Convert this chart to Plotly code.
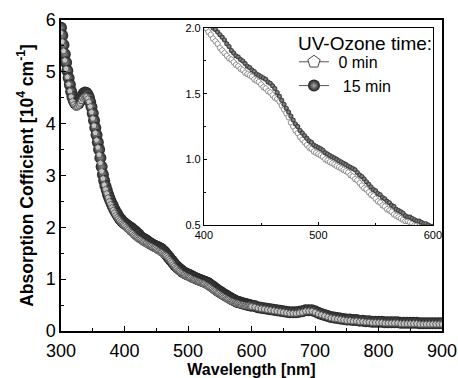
import plotly.graph_objects as go

# wavelength grid (nm): 2 nm steps 300-600, 5 nm steps 605-900
wavelength_uv = list(range(300, 401, 2))
wavelength_vis = list(range(402, 601, 2))
wavelength_nir = list(range(605, 901, 5))
wavelength = wavelength_uv + wavelength_vis + wavelength_nir

# 15 min UV-Ozone (dark spheres), 10^4 cm^-1
abs_15min_uv = [5.85, 5.70, 5.52, 5.34, 5.18, 5.02, 4.88, 4.75, 4.62, 4.52,
                4.45, 4.40, 4.38, 4.38, 4.40, 4.44, 4.50, 4.55, 4.58, 4.60,
                4.59, 4.56, 4.50, 4.42, 4.32, 4.20, 4.06, 3.92, 3.78, 3.64,
                3.50, 3.34, 3.17, 3.02, 2.90, 2.80, 2.72, 2.64, 2.57, 2.51,
                2.45, 2.40, 2.35, 2.30, 2.26, 2.22, 2.18, 2.15, 2.12, 2.10,
                2.08]
abs_15min_vis = [2.06, 2.04, 2.02, 2.00, 1.99, 1.97, 1.95, 1.93, 1.91, 1.88,
                 1.86, 1.83, 1.81, 1.79, 1.78, 1.76, 1.75, 1.73, 1.71, 1.70,
                 1.68, 1.67, 1.65, 1.64, 1.63, 1.62, 1.61, 1.59, 1.58, 1.56,
                 1.54, 1.51, 1.48, 1.45, 1.42, 1.39, 1.36, 1.33, 1.30, 1.27,
                 1.25, 1.22, 1.20, 1.18, 1.16, 1.14, 1.13, 1.11, 1.10, 1.09,
                 1.08, 1.07, 1.05, 1.04, 1.03, 1.02, 1.01, 1.00, 0.99, 0.98,
                 0.97, 0.96, 0.95, 0.94, 0.93, 0.92, 0.90, 0.88, 0.87, 0.85,
                 0.83, 0.81, 0.79, 0.77, 0.76, 0.74, 0.73, 0.71, 0.70, 0.68,
                 0.67, 0.65, 0.64, 0.62, 0.61, 0.60, 0.59, 0.57, 0.56, 0.56,
                 0.55, 0.54, 0.53, 0.53, 0.52, 0.51, 0.51, 0.50, 0.49, 0.49]
abs_15min_nir = [0.48, 0.46, 0.45, 0.44, 0.43, 0.42, 0.41, 0.40, 0.39, 0.38,
                 0.37, 0.36, 0.36, 0.36, 0.37, 0.38, 0.40, 0.40, 0.40, 0.38,
                 0.35, 0.33, 0.31, 0.29, 0.27, 0.26, 0.25, 0.24, 0.23, 0.22,
                 0.22, 0.21, 0.21, 0.20, 0.20, 0.19, 0.19, 0.18, 0.18, 0.18,
                 0.18, 0.17, 0.17, 0.17, 0.17, 0.17, 0.16, 0.16, 0.16, 0.16,
                 0.16, 0.16, 0.15, 0.15, 0.15, 0.15, 0.15, 0.15, 0.15, 0.15]

# 0 min UV-Ozone (open pentagons)
abs_0min_uv = [5.75, 5.58, 5.40, 5.22, 5.06, 4.90, 4.76, 4.63, 4.52, 4.43,
               4.37, 4.33, 4.31, 4.32, 4.35, 4.39, 4.44, 4.49, 4.52, 4.53,
               4.52, 4.48, 4.42, 4.33, 4.22, 4.10, 3.96, 3.82, 3.68, 3.54,
               3.40, 3.24, 3.08, 2.94, 2.82, 2.73, 2.65, 2.57, 2.50, 2.44,
               2.38, 2.33, 2.28, 2.23, 2.19, 2.16, 2.13, 2.10, 2.07, 2.05,
               2.03]
abs_0min_vis = [2.00, 1.97, 1.95, 1.92, 1.90, 1.88, 1.85, 1.83, 1.81, 1.79,
                1.77, 1.76, 1.74, 1.72, 1.71, 1.69, 1.68, 1.66, 1.65, 1.64,
                1.63, 1.61, 1.60, 1.59, 1.57, 1.55, 1.54, 1.52, 1.51, 1.49,
                1.47, 1.46, 1.44, 1.41, 1.38, 1.35, 1.32, 1.28, 1.25, 1.22,
                1.20, 1.17, 1.15, 1.13, 1.11, 1.09, 1.08, 1.06, 1.05, 1.04,
                1.03, 1.02, 1.00, 0.99, 0.98, 0.97, 0.96, 0.95, 0.94, 0.93,
                0.92, 0.91, 0.90, 0.88, 0.87, 0.85, 0.84, 0.82, 0.80, 0.78,
                0.77, 0.75, 0.73, 0.72, 0.70, 0.68, 0.67, 0.65, 0.64, 0.62,
                0.61, 0.60, 0.58, 0.57, 0.56, 0.55, 0.54, 0.53, 0.53, 0.52,
                0.51, 0.50, 0.50, 0.49, 0.49, 0.48, 0.48, 0.48, 0.47, 0.47]
abs_0min_nir = [0.46, 0.44, 0.43, 0.42, 0.41, 0.40, 0.39, 0.38, 0.37, 0.36,
                0.35, 0.34, 0.34, 0.34, 0.35, 0.36, 0.38, 0.38, 0.38, 0.36,
                0.33, 0.31, 0.29, 0.27, 0.25, 0.24, 0.23, 0.22, 0.21, 0.20,
                0.20, 0.19, 0.19, 0.18, 0.18, 0.17, 0.17, 0.16, 0.16, 0.16,
                0.16, 0.15, 0.15, 0.15, 0.15, 0.15, 0.14, 0.14, 0.14, 0.14,
                0.14, 0.14, 0.13, 0.13, 0.13, 0.13, 0.13, 0.13, 0.13, 0.13]

abs_15min = abs_15min_uv + abs_15min_vis + abs_15min_nir
abs_0min = abs_0min_uv + abs_0min_vis + abs_0min_nir
assert len(abs_15min) == len(wavelength) == len(abs_0min)

series_names = ["0 min", "15 min"]
legend_title = "UV-Ozone time:"

FONT = "Liberation Sans, Arial, sans-serif"

sphere = dict(symbol="circle", color="#222222", line=dict(width=0),
              gradient=dict(type="radial", color="#909090"))

fig = go.Figure()

# main plot
fig.add_trace(go.Scatter(x=wavelength, y=abs_15min, mode="markers", showlegend=False,
                         marker=dict(size=12, **sphere), xaxis="x", yaxis="y"))
fig.add_trace(go.Scatter(x=wavelength, y=abs_0min, mode="markers", showlegend=False,
                         marker=dict(size=6.5, symbol="pentagon", color="#c4c4c4",
                                     line=dict(color="#5e5e5e", width=1)),
                         xaxis="x", yaxis="y"))

# inset
fig.add_trace(go.Scatter(x=wavelength, y=abs_0min, mode="markers", showlegend=False,
                         marker=dict(size=6, symbol="pentagon", color="white",
                                     line=dict(color="#8f8f8f", width=1)),
                         xaxis="x2", yaxis="y2"))
fig.add_trace(go.Scatter(x=wavelength, y=abs_15min, mode="markers", showlegend=False,
                         marker=dict(size=5, symbol="circle", color="#2a2a2a",
                                     line=dict(width=0),
                                     gradient=dict(type="radial", color="#a0a0a0")),
                         xaxis="x2", yaxis="y2"))

# legend entries
fig.add_trace(go.Scatter(x=[None], y=[None], mode="lines+markers", name=" " + series_names[0],
                         line=dict(color="#555", width=1),
                         marker=dict(size=13, symbol="pentagon", color="white",
                                     line=dict(color="#444", width=1)),
                         xaxis="x2", yaxis="y2"))
fig.add_trace(go.Scatter(x=[None], y=[None], mode="lines+markers", name="  " + series_names[1],
                         line=dict(color="#555", width=1),
                         marker=dict(size=12, symbol="circle", color="#1a1a1a",
                                     gradient=dict(type="radial", color="#aaaaaa"),
                                     line=dict(width=0)),
                         xaxis="x2", yaxis="y2"))

axis_common = dict(showline=True, linecolor="black", mirror=True, ticks="inside",
                   tickcolor="black", showgrid=False, zeroline=False, automargin=False)

fig.update_layout(
    width=458, height=378,
    margin=dict(l=61, r=16, t=20, b=47),
    paper_bgcolor="white", plot_bgcolor="white",
    font=dict(family=FONT, color="black"),
    xaxis=dict(domain=[0, 1], range=[300, 900], tickvals=[300, 400, 500, 600, 700, 800, 900],
               ticklen=5, linewidth=1.5, ticklabelstandoff=3,
               minor=dict(dtick=50, ticks="inside", ticklen=3, tickcolor="black"),
               tickfont=dict(size=18),
               title=dict(text="<b>Wavelength [nm]</b>", font=dict(size=16), standoff=4),
               **axis_common),
    yaxis=dict(domain=[0, 1], range=[0, 6], dtick=1, ticklen=5, linewidth=1.5,
               minor=dict(dtick=0.5, ticks="inside", ticklen=3, tickcolor="black"),
               tickfont=dict(size=18),
               title=dict(text="<b>Absorption Cofficient [10<sup>4</sup> cm<sup>-1</sup>]</b>",
                          font=dict(size=17.5), standoff=8),
               **axis_common),
    xaxis2=dict(domain=[0.375, 0.976], range=[400, 600], tickvals=[400, 500, 600],
                anchor="y2", ticklen=3, linewidth=1,
                minor=dict(dtick=50, ticks="inside", ticklen=2, tickcolor="black"),
                tickfont=dict(size=11),
                **axis_common),
    yaxis2=dict(domain=[0.341, 0.974], range=[0.5, 2.0], tickvals=[0.5, 1.0, 1.5, 2.0],
                ticktext=["0.5", "1.0", "1.5", "2.0"],
                anchor="x2", ticklen=3, linewidth=1,
                minor=dict(dtick=0.25, ticks="inside", ticklen=2, tickcolor="black"),
                tickfont=dict(size=11),
                **axis_common),
    legend=dict(x=0.6115, y=0.92, xanchor="left", yanchor="top",
                bgcolor="rgba(0,0,0,0)", borderwidth=0,
                font=dict(size=16), itemwidth=30, tracegroupgap=0),
    annotations=[dict(text=legend_title, xref="paper", yref="paper",
                      x=0.617, y=0.923, xanchor="left", yanchor="middle",
                      showarrow=False, font=dict(size=19))],
)

fig.write_html("out.html")
